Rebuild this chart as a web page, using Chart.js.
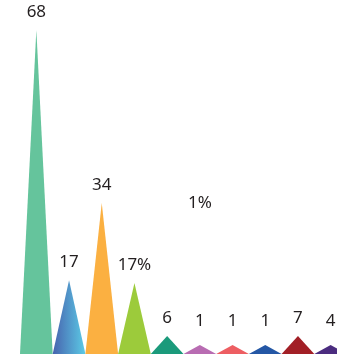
<!DOCTYPE html>
<html>
<head>
<meta charset="utf-8">
<script src="https://cdn.jsdelivr.net/npm/chart.js@4/dist/chart.umd.min.js"></script>
<style>
  html, body { margin: 0; padding: 0; background: #fff; overflow: hidden; }
  #wrap { width: 347px; height: 354px; }
</style>
</head>
<body>
<div id="wrap"><canvas id="spikes"></canvas></div>
<script>
/* datos del gráfico */
const categories = ['A', 'B', 'C', 'D', 'E', 'F', 'G', 'H', 'I', 'J'];
// alturas
const values = [68, 15.5, 31.7, 14.9, 3.8, 1.9, 1.9, 1.9, 3.8, 1.9];
// textos que se ven sobre cada pico
const valueLabels = ['68', '17', '34', '17%', '6', '1', '1', '1', '7', '4'];
const colors = ['#65c49c', 'gradient', '#fbb041', '#9ccb3b', '#1b9a7b',
  '#b86cb2', '#ed5e62', '#2457a5', '#a21f26', '#4b2c7f'];
// etiqueta suelta que aparece en la imagen
const floatingText = '1%';
const floatingIndex = 5;

const textColor = '#231f20';
const labelFont = '17px "Noto Sans", "Open Sans", sans-serif';

// dibuja triangulos en vez de barras
const trianglePlugin = {
  id: 'triangles',
  beforeDatasetDraw(chart, args) {
    const ctx = chart.ctx;
    const meta = args.meta;
    meta.data.forEach((el, i) => {
      const half = el.width / 2;
      let fill = colors[i];
      if (fill === 'gradient') {
        fill = ctx.createLinearGradient(el.x - half, 0, el.x + half, 0);
        fill.addColorStop(0, '#4763ae');
        fill.addColorStop(1, '#5ccbe6');
      }
      ctx.save();
      ctx.fillStyle = fill;
      ctx.beginPath();
      ctx.moveTo(el.x - half, el.base);
      ctx.lineTo(el.x, el.y);
      ctx.lineTo(el.x + half, el.base);
      ctx.closePath();
      ctx.fill();
      ctx.restore();
    });
    return false;
  },
  afterDatasetsDraw(chart) {
    const ctx = chart.ctx;
    const meta = chart.getDatasetMeta(0);
    ctx.save();
    ctx.font = labelFont;
    ctx.fillStyle = textColor;
    ctx.textAlign = 'center';
    ctx.textBaseline = 'alphabetic';
    meta.data.forEach((el, i) => {
      const y = Math.min(el.y - 13, el.base - 28);
      ctx.fillText(valueLabels[i], el.x, y);
    });
    const yScale = chart.scales.y;
    const el = meta.data[floatingIndex];
    ctx.fillText(floatingText, el.x, yScale.getPixelForValue(30.6));
    ctx.restore();
  }
};

new Chart(document.getElementById('spikes'), {
  type: 'bar',
  data: {
    labels: categories,
    datasets: [{
      data: values,
      backgroundColor: colors.map(c => c === 'gradient' ? '#4f8fc8' : c),
      barPercentage: 1,
      categoryPercentage: 1
    }]
  },
  options: {
    responsive: true,
    maintainAspectRatio: false,
    animation: false,
    layout: { padding: { left: 20, right: 0, top: 0, bottom: 0 } },
    plugins: { legend: { display: false }, tooltip: { enabled: false } },
    scales: {
      x: { display: false },
      y: { display: false, min: 0, max: 74.3 }
    }
  },
  plugins: [trianglePlugin]
});
</script>
</body>
</html>
